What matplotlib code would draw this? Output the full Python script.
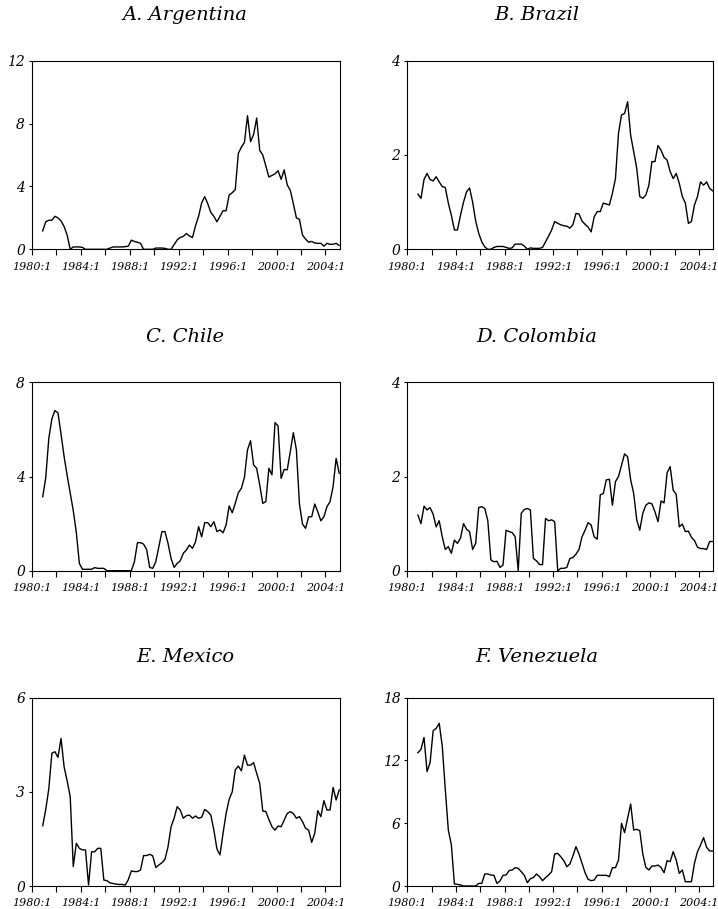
import numpy as np
import matplotlib
matplotlib.use("Agg")
import matplotlib.pyplot as plt

# quarterly series, 1980:4 .. 2005:1
argentina = [1.17, 1.75, 1.85, 1.85, 2.1, 2.0, 1.8, 1.45, 0.9, 0.0,
             0.15, 0.15, 0.15, 0.12, 0.0, 0.0, 0.0, 0.0, 0.0, 0.0,
             0.0, 0.0, 0.08, 0.15, 0.15, 0.15, 0.15, 0.17, 0.2, 0.58,
             0.5, 0.45, 0.38, 0.0, 0.0, 0.0, 0.0, 0.08, 0.08, 0.08,
             0.06, 0.0, 0.0, 0.3, 0.6, 0.75, 0.82, 1.0, 0.85, 0.75,
             1.5, 2.1, 2.95, 3.35, 2.9, 2.35, 2.1, 1.75, 2.1, 2.45,
             2.45, 3.45, 3.6, 3.8, 6.1, 6.5, 6.8, 8.5, 6.85, 7.3,
             8.35, 6.3, 6.0, 5.3, 4.6, 4.7, 4.8, 5.0, 4.45, 5.05,
             4.1, 3.75, 2.9, 2.0, 1.9, 0.9, 0.65, 0.45, 0.5, 0.4,
             0.38, 0.38, 0.2, 0.38, 0.32, 0.32, 0.38, 0.25]

brazil = [1.17, 1.08, 1.48, 1.61, 1.48, 1.45, 1.54, 1.43, 1.33, 1.31,
          0.98, 0.72, 0.41, 0.41, 0.72, 1.0, 1.22, 1.3, 1.0, 0.6,
          0.34, 0.16, 0.05, 0.0, 0.0, 0.04, 0.06, 0.06, 0.06, 0.04,
          0.02, 0.03, 0.11, 0.11, 0.11, 0.07, 0.0, 0.03, 0.02, 0.02,
          0.02, 0.04, 0.16, 0.28, 0.41, 0.59, 0.55, 0.52, 0.5, 0.49,
          0.45, 0.52, 0.76, 0.75, 0.6, 0.53, 0.47, 0.37, 0.69, 0.8,
          0.8, 0.98, 0.96, 0.94, 1.19, 1.5, 2.46, 2.85, 2.88, 3.13,
          2.42, 2.07, 1.72, 1.12, 1.08, 1.15, 1.36, 1.86, 1.86, 2.2,
          2.1, 1.95, 1.89, 1.65, 1.5, 1.61, 1.4, 1.12, 0.98, 0.55,
          0.59, 0.94, 1.12, 1.43, 1.36, 1.43, 1.29, 1.24]

chile = [3.14, 3.95, 5.62, 6.45, 6.8, 6.7, 5.8, 4.85, 4.05, 3.3,
         2.55, 1.62, 0.31, 0.06, 0.06, 0.06, 0.06, 0.13, 0.1, 0.1,
         0.1, 0.0, 0.0, 0.0, 0.0, 0.0, 0.0, 0.0, 0.0, 0.0,
         0.38, 1.19, 1.19, 1.13, 0.9, 0.14, 0.1, 0.38, 1.02, 1.66,
         1.66, 1.16, 0.52, 0.14, 0.31, 0.42, 0.74, 0.88, 1.09, 0.95,
         1.23, 1.87, 1.44, 2.04, 2.04, 1.87, 2.08, 1.66, 1.73, 1.61,
         1.94, 2.75, 2.46, 2.86, 3.31, 3.5, 3.97, 5.13, 5.52, 4.49,
         4.35, 3.64, 2.86, 2.93, 4.35, 4.07, 6.29, 6.15, 3.92, 4.3,
         4.28, 5.06, 5.86, 5.13, 2.83, 1.98, 1.8, 2.29, 2.29, 2.83,
         2.5, 2.12, 2.29, 2.72, 2.93, 3.57, 4.77, 4.14]

colombia = [1.18, 1.0, 1.37, 1.29, 1.34, 1.2, 0.93, 1.06, 0.72, 0.45,
            0.51, 0.37, 0.65, 0.58, 0.69, 1.0, 0.88, 0.83, 0.45, 0.58,
            1.34, 1.36, 1.32, 1.06, 0.23, 0.19, 0.2, 0.07, 0.12, 0.86,
            0.83, 0.81, 0.72, 0.0, 1.22, 1.3, 1.32, 1.29, 0.26, 0.21,
            0.13, 0.13, 1.11, 1.06, 1.08, 1.04, 0.0, 0.05, 0.05, 0.07,
            0.26, 0.28, 0.35, 0.45, 0.72, 0.86, 1.02, 0.97, 0.72, 0.67,
            1.61, 1.64, 1.93, 1.94, 1.39, 1.89, 2.0, 2.24, 2.48, 2.42,
            1.93, 1.64, 1.08, 0.86, 1.22, 1.39, 1.44, 1.42, 1.25, 1.04,
            1.48, 1.44, 2.08, 2.21, 1.71, 1.62, 0.93, 0.99, 0.83, 0.84,
            0.71, 0.64, 0.5, 0.47, 0.47, 0.45, 0.62, 0.62]

mexico = [1.92, 2.44, 3.1, 4.23, 4.28, 4.1, 4.7, 3.8, 3.35, 2.85,
          0.62, 1.36, 1.2, 1.15, 1.15, 0.03, 1.09, 1.09, 1.2, 1.2,
          0.19, 0.17, 0.1, 0.08, 0.06, 0.05, 0.05, 0.03, 0.2, 0.48,
          0.46, 0.46, 0.51, 0.97, 0.97, 1.01, 0.96, 0.59, 0.67, 0.74,
          0.85, 1.25, 1.89, 2.16, 2.53, 2.42, 2.16, 2.24, 2.26, 2.16,
          2.23, 2.16, 2.19, 2.44, 2.37, 2.26, 1.78, 1.18, 0.99, 1.68,
          2.31, 2.76, 3.0, 3.7, 3.82, 3.67, 4.17, 3.85, 3.85, 3.93,
          3.59, 3.27, 2.39, 2.37, 2.12, 1.89, 1.78, 1.91, 1.89, 2.1,
          2.31, 2.37, 2.31, 2.16, 2.21, 2.05, 1.84, 1.78, 1.39, 1.68,
          2.4, 2.21, 2.72, 2.42, 2.42, 3.14, 2.74, 3.06]

venezuela = [12.74, 13.06, 14.2, 10.93, 11.79, 14.84, 15.07, 15.55, 13.38, 9.24,
             5.35, 3.92, 0.19, 0.16, 0.1, 0.0, 0.0, 0.0, 0.0, 0.0,
             0.25, 0.25, 1.15, 1.15, 1.05, 1.02, 0.25, 0.48, 1.02, 1.05,
             1.47, 1.53, 1.75, 1.69, 1.37, 1.02, 0.32, 0.7, 0.8, 1.15,
             0.89, 0.51, 0.8, 1.05, 1.37, 3.06, 3.12, 2.8, 2.42, 1.85,
             2.1, 2.87, 3.76, 3.06, 2.17, 1.27, 0.64, 0.51, 0.57, 1.02,
             1.02, 1.02, 1.02, 0.89, 1.75, 1.75, 2.48, 5.99, 5.1, 6.47,
             7.84, 5.35, 5.42, 5.29, 3.06, 1.78, 1.53, 1.91, 1.91, 2.0,
             1.78, 1.27, 2.42, 2.33, 3.28, 2.48, 1.21, 1.53, 0.41, 0.41,
             0.41, 2.17, 3.28, 3.92, 4.62, 3.7, 3.35, 3.35]

titles = ["A. Argentina", "B. Brazil", "C. Chile",
          "D. Colombia", "E. Mexico", "F. Venezuela"]
series = [argentina, brazil, chile, colombia, mexico, venezuela]
y_max = [12, 4, 8, 4, 6, 18]
y_step = [4, 2, 4, 2, 3, 6]

tick_years = list(range(1980, 2005, 4))
tick_labels = ["%d:1" % y for y in tick_years]

W, H = 718, 909
fig = plt.figure(figsize=(W / 100, H / 100), dpi=100)

# axes boxes in pixels: left, top, right, bottom
cols = [(32, 339.5), (407.3, 713)]
rows = [(60.7, 249.3), (382.3, 570.7), (697.7, 886)]
title_x = [185, 537]
title_y = [15, 337, 657]

font = dict(family="DejaVu Serif", style="italic")

for i, (name, vals) in enumerate(zip(titles, series)):
    r, c = divmod(i, 2)
    x0, x1 = cols[c]
    top, bot = rows[r]
    ax = fig.add_axes([x0 / W, 1 - bot / H, (x1 - x0) / W, (bot - top) / H])

    # quarter index, 1980:1 = 0
    q = np.arange(len(vals)) + 3.5
    ax.plot(q, vals, color="black", lw=1.0)

    ax.set_xlim(0, 100.6)
    ax.set_ylim(0, y_max[i])
    ax.set_xticks([(y - 1980) * 4 for y in tick_years])
    ax.set_xticklabels(tick_labels, fontsize=8, **font)
    ax.set_xticks(np.arange(8, 101, 16), minor=True)
    yt = np.arange(0, y_max[i] + 0.1, y_step[i])
    ax.set_yticks(yt)
    ax.set_yticklabels([str(int(v)) for v in yt], fontsize=10, **font)
    ax.tick_params(axis="x", which="both", direction="out", length=4,
                   width=0.8, pad=5)
    ax.tick_params(axis="y", direction="out", length=2, width=0.8, pad=3)
    for s in ax.spines.values():
        s.set_linewidth(0.8)

    fig.text(title_x[c] / W, 1 - title_y[r] / H, name, ha="center",
             va="center", fontsize=14, **font)

fig.savefig("out.png", dpi=100)
